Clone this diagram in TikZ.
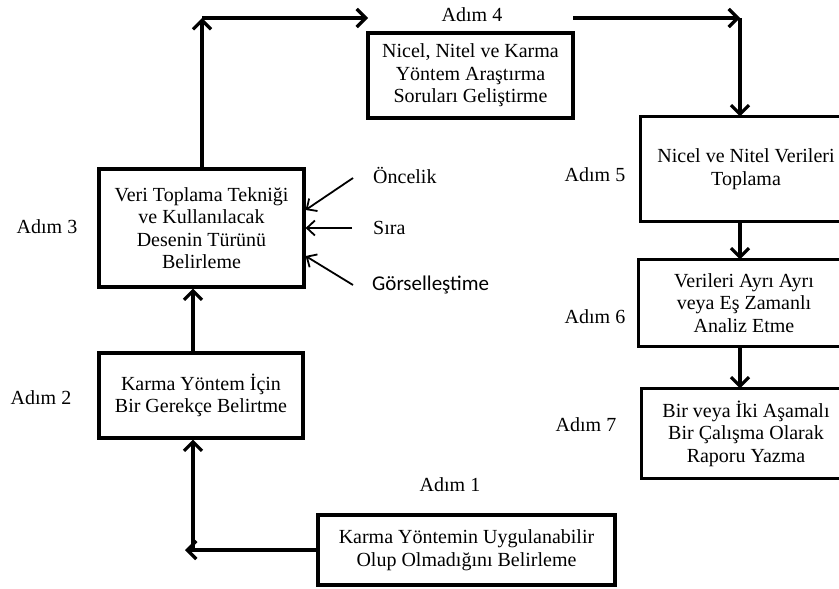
\documentclass[tikz,border=0pt]{standalone}
\usepackage{fontspec}
\setmainfont{Liberation Serif}
\newfontfamily\calib{Carlito}
\usetikzlibrary{arrows.meta}

\begin{document}
\begin{tikzpicture}[x=1pt,y=-1pt,
  stepbox/.style={draw,line width=3.2pt,rectangle,inner sep=0pt,align=center,
    font=\fontsize{20}{22.5}\selectfont},
  openbox/.style={stepbox,draw=none},
  frame/.style={line width=3.2pt},
  adim/.style={inner sep=0pt,font=\fontsize{20}{22.5}\selectfont},
  side/.style={inner sep=0pt,anchor=west,font=\fontsize{20}{22.5}\selectfont},
  arr/.style={line width=3.2pt,-{Straight Barb[length=9pt,width=18pt]}},
  sarr/.style={line width=1.8pt,-{Straight Barb[length=8pt,width=15pt]}}]

\useasboundingbox[fill=white] (0,0) rectangle (839,589);
\clip (0,0) rectangle (839,589);

% process boxes
\node[stepbox,minimum width=297pt,minimum height=70pt] (b1) at (466.5,550)
  {Karma Yöntemin Uygulanabilir\\Olup Olmadığını Belirleme};
\node[stepbox,minimum width=204pt,minimum height=85pt] (b2) at (201,395.5)
  {Karma Yöntem İçin\\Bir Gerekçe Belirtme};
\node[stepbox,minimum width=205pt,minimum height=118pt] (b3) at (201.5,228)
  {Veri Toplama Tekniği\\ve Kullanılacak\\Desenin Türünü\\Belirleme};
\node[stepbox,minimum width=205pt,minimum height=85pt] (b4) at (470.5,75.5)
  {Nicel, Nitel ve Karma\\Yöntem Araştırma\\Soruları Geliştirme};

% boxes of the right column run past the right edge
\node[openbox,minimum width=208pt,minimum height=102pt] (b5) at (746,169)
  {Nicel ve Nitel Verileri\\Toplama};
\node[openbox,minimum width=208pt,minimum height=84pt] (b6) at (744,303)
  {Verileri Ayrı Ayrı\\veya Eş Zamanlı\\Analiz Etme};
\node[openbox,minimum width=206pt,minimum height=87pt] (b7) at (746,433.5)
  {Bir veya İki Aşamalı\\Bir Çalışma Olarak\\Raporu Yazma};
\foreach \b in {b5,b6,b7}
  \draw[frame] ([xshift=40pt]\b.north east) -- (\b.north west)
    -- (\b.south west) -- ([xshift=40pt]\b.south east);

% step labels
\node[adim] (a1) at (450,485) {Adım 1};
\node[adim] (a2) at (41,398) {Adım 2};
\node[adim] (a3) at (47,227) {Adım 3};
\node[adim] (a4) at (472,15) {Adım 4};
\node[adim] (a5) at (595,175) {Adım 5};
\node[adim] (a6) at (595,317) {Adım 6};
\node[adim] (a7) at (586,425) {Adım 7};

% design choices feeding step 3
\node[side] (s1) at (373,175) {Öncelik};
\node[side] (s2) at (373,228) {Sıra};
\node[side,font=\calib\fontsize{21}{22}\selectfont] (s3) at (372,285) {Görselleştime};

% routing points
\coordinate (j1) at (193,550);
\coordinate (j1tip) at (185,550);
\coordinate (c34) at (202,18);
\coordinate (t4) at (368,18);
\coordinate (s45) at (573,18);
\coordinate (c45) at (740,18);
\coordinate (o1) at (353,178);
\coordinate (o2) at (352,228);
\coordinate (o3) at (353,285);

% flow
\draw[arr] (b1.west) -- (j1tip);
\draw[arr] (j1) -- (b2.south -| j1);
\draw[arr] (b2.north -| j1) -- (b3.south -| j1);
\draw[arr] (b3.north -| c34) -- (c34);
\draw[arr] (c34) -- (t4);
\draw[arr] (s45) -- (c45);
\draw[arr] (c45) -- (b5.north -| c45);
\draw[arr] (b5.south -| c45) -- (b6.north -| c45);
\draw[arr] (b6.south -| c45) -- (b7.north -| c45);

\draw[sarr] (o1) -- ([yshift=18pt]b3.east);
\draw[sarr] (o2) -- (b3.east);
\draw[sarr] (o3) -- ([yshift=-28pt]b3.east);
\end{tikzpicture}
\end{document}
